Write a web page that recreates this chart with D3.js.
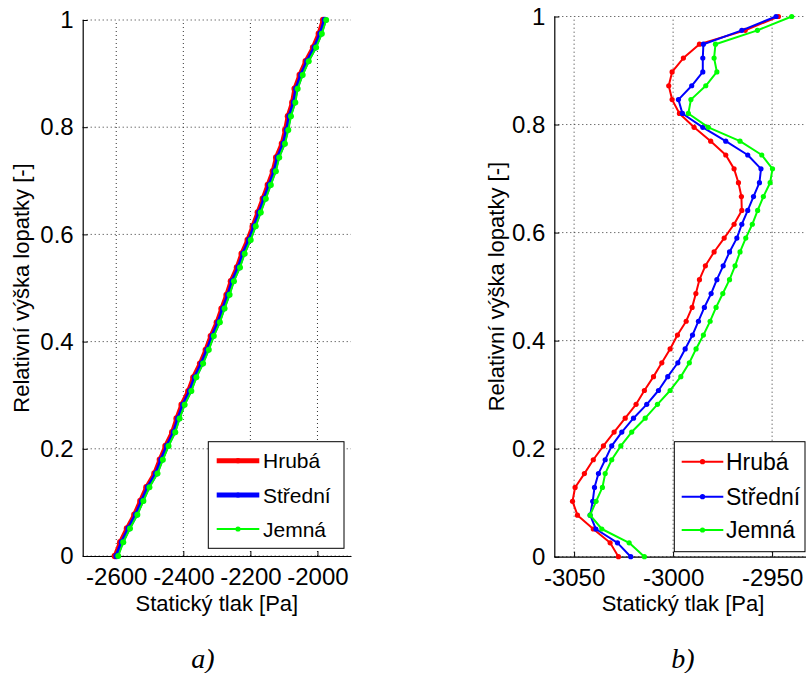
<!DOCTYPE html>
<html>
<head>
<meta charset="utf-8">
<script src="https://cdn.jsdelivr.net/npm/d3@7"></script>
<style>
  html, body { margin: 0; padding: 0; background: #fff; }
  svg { display: block; }
  text { font-family: "Liberation Sans Narrow", "Arial Narrow", "Liberation Sans", Arial, sans-serif; fill: #000; }
</style>
</head>
<body>
<svg id="chart" width="806" height="673"></svg>
<script>
// ---------------- DATA ----------------
const seriesNames = ["Hrubá", "Střední", "Jemná"];
const seriesColors = ["#ff0000", "#0000ff", "#00ff00"];
const nPoints = 40; // relative height i/39

// Panel a) static pressure [Pa], bottom (h=0) to top (h=1)
const aHruba = [-2604, -2588, -2568, -2546, -2528, -2510, -2486, -2470, -2453, -2433, -2420, -2405,
  -2385, -2370, -2350, -2333, -2318, -2300, -2286, -2271, -2258, -2240, -2226, -2208, -2193, -2178,
  -2163, -2148, -2133, -2123, -2106, -2096, -2088, -2075, -2068, -2053, -2035, -2013, -1996, -1983];
const aStredni = [-2599, -2583, -2563, -2541, -2523, -2505, -2481, -2465, -2448, -2428, -2415, -2400,
  -2380, -2365, -2345, -2328, -2313, -2295, -2281, -2266, -2253, -2235, -2221, -2203, -2188, -2173,
  -2158, -2143, -2128, -2118, -2101, -2091, -2083, -2070, -2063, -2048, -2030, -2008, -1991, -1978];
const aJemna = [-2594, -2579, -2559, -2537, -2519, -2501, -2477, -2461, -2444, -2424, -2411, -2396,
  -2376, -2361, -2341, -2324, -2309, -2291, -2277, -2262, -2249, -2231, -2217, -2199, -2184, -2169,
  -2154, -2139, -2124, -2114, -2097, -2087, -2079, -2066, -2059, -2044, -2026, -2004, -1987, -1974];

// Panel b)
const bHruba = [-3027.6, -3031.8, -3040.3, -3048.3, -3050.8, -3049.5, -3044.8, -3040.3, -3035.2, -3029.8,
  -3024.2, -3018.7, -3014.5, -3009.9, -3005.7, -3001.5, -2997.8, -2993.4, -2990.4, -2988.5,
  -2986.7, -2983.7, -2979.3, -2974.2, -2969.2, -2965.3, -2965.5, -2967.0, -2969.2, -2973.4,
  -2981.0, -2989.4, -2996.8, -3000.5, -3002.2, -3000.5, -2994.8, -2986.7, -2963.6, -2946.8];
const bStredni = [-3021.4, -3028.1, -3039.0, -3041.9, -3040.6, -3039.7, -3037.7, -3034.3, -3031.0, -3025.9,
  -3020.0, -3013.3, -3007.4, -3002.7, -2997.6, -2993.9, -2990.2, -2987.2, -2984.2, -2980.8,
  -2977.9, -2974.7, -2971.5, -2967.8, -2965.3, -2962.3, -2959.4, -2956.4, -2955.6, -2962.3,
  -2973.4, -2985.0, -2995.3, -2997.3, -2990.6, -2985.0, -2985.0, -2984.7, -2965.3, -2948.0];
const bJemna = [-3014.5, -3022.2, -3036.0, -3041.9, -3038.9, -3035.7, -3034.3, -3031.0, -3026.4, -3020.9,
  -3014.1, -3007.9, -3001.5, -2996.1, -2991.8, -2988.4, -2984.7, -2981.3, -2978.3, -2974.9,
  -2971.5, -2968.7, -2966.2, -2963.3, -2960.0, -2957.3, -2954.4, -2951.0, -2949.8, -2955.2,
  -2966.2, -2982.2, -2992.3, -2991.0, -2983.5, -2977.9, -2979.3, -2978.6, -2957.4, -2940.1];

const aXTicks = [-2600, -2400, -2200, -2000];
const bXTicks = [-3050, -3000, -2950];
const yTicks = [0, 0.2, 0.4, 0.6, 0.8, 1];
const xTitle = "Statický tlak [Pa]";
const yTitle = "Relativní výška lopatky [-]";
const captions = ["a)", "b)"];

// ---------------- DRAW ----------------
const svg = d3.select("#chart");

function panel(cfg) {
  const x = d3.scaleLinear().domain(cfg.xDomain).range([cfg.left, cfg.right]);
  const y = d3.scaleLinear().domain([0, 1]).range([cfg.bottom, cfg.top]);
  const g = svg.append("g");

  // grid
  const grid = g.append("g").attr("stroke", "#333").attr("stroke-width", 1)
    .attr("stroke-dasharray", "1,3").attr("fill", "none");
  cfg.xTicks.forEach(t => grid.append("line")
    .attr("x1", x(t)).attr("x2", x(t)).attr("y1", cfg.bottom).attr("y2", cfg.top));
  yTicks.forEach(t => grid.append("line")
    .attr("x1", cfg.left).attr("x2", cfg.right).attr("y1", y(t)).attr("y2", y(t)));

  // axes (inward ticks)
  const xAxis = d3.axisBottom(x).tickValues(cfg.xTicks).tickSizeInner(-5).tickSizeOuter(0)
    .tickPadding(12).tickFormat(d3.format("d"));
  const gx = g.append("g").attr("transform", `translate(0,${cfg.bottom})`).call(xAxis);
  gx.selectAll("text").attr("font-size", cfg.tickFont).attr("font-family", null)
    .text(d => String(d).replace("\u2212", "-"));
  const yAxis = d3.axisLeft(y).tickValues(yTicks).tickSizeInner(-5).tickSizeOuter(0)
    .tickPadding(9).tickFormat(d => d3.format("")(+d.toFixed(1)));
  const gy = g.append("g").attr("transform", `translate(${cfg.left},0)`).call(yAxis);
  gy.selectAll("text").attr("font-size", cfg.tickFont).attr("font-family", null);
  [gx, gy].forEach(a => {
    a.select(".domain").attr("stroke", "#000").attr("stroke-width", 1.2);
    a.selectAll(".tick line").attr("stroke", "#000");
  });

  // clip
  const clipId = "clip" + cfg.id;
  svg.append("clipPath").attr("id", clipId).append("rect")
    .attr("x", cfg.left - 8).attr("y", cfg.top - 8)
    .attr("width", cfg.right - cfg.left + 16).attr("height", cfg.bottom - cfg.top + 16);
  const plot = g.append("g").attr("clip-path", `url(#${clipId})`);

  cfg.series.forEach((vals, si) => {
    const pts = vals.map((v, i) => [v, i / (nPoints - 1)]);
    const line = d3.line().x(d => x(d[0])).y(d => y(d[1]));
    plot.append("path").datum(pts).attr("fill", "none")
      .attr("stroke", seriesColors[si]).attr("stroke-width", cfg.lineW[si])
      .attr("stroke-linejoin", "round").attr("d", line);
    plot.append("g").selectAll("circle").data(pts).join("circle")
      .attr("cx", d => x(d[0])).attr("cy", d => y(d[1])).attr("r", cfg.markR[si])
      .attr("fill", seriesColors[si]);
  });

  // titles
  g.append("text").attr("x", (cfg.left + cfg.right) / 2).attr("y", cfg.xTitleY)
    .attr("text-anchor", "middle").attr("font-size", cfg.titleFont).text(xTitle);
  g.append("text").attr("transform", `translate(${cfg.yTitleX},${(cfg.top + cfg.bottom) / 2}) rotate(-90)`)
    .attr("text-anchor", "middle").attr("font-size", cfg.titleFont).text(yTitle);

  // legend
  const L = cfg.legend;
  const lg = g.append("g");
  lg.append("rect").attr("x", L.x0).attr("y", L.y0).attr("width", L.x1 - L.x0)
    .attr("height", L.y1 - L.y0).attr("fill", "#fff").attr("stroke", "#000").attr("stroke-width", 1);
  seriesNames.forEach((name, si) => {
    const ry = L.rows[si];
    lg.append("line").attr("x1", L.lx0).attr("x2", L.lx1).attr("y1", ry).attr("y2", ry)
      .attr("stroke", seriesColors[si]).attr("stroke-width", L.lineW[si]);
    lg.append("circle").attr("cx", (L.lx0 + L.lx1) / 2).attr("cy", ry).attr("r", L.markR)
      .attr("fill", seriesColors[si]);
    lg.append("text").attr("x", L.tx).attr("y", ry).attr("dy", "0.36em")
      .attr("font-size", L.font).text(name);
  });

  // caption
  svg.append("text").attr("x", cfg.capX).attr("y", 668).attr("text-anchor", "middle")
    .style("font-family", "'Liberation Serif', 'DejaVu Serif', serif")
    .attr("font-style", "italic").attr("font-size", 28).text(captions[cfg.id]);
}

panel({
  id: 0, xDomain: [-2700, -1900], left: 82.7, right: 351, top: 20, bottom: 556,
  xTicks: aXTicks, series: [aHruba, aStredni, aJemna],
  lineW: [4.5, 4, 2], markR: [3.2, 3.2, 3],
  tickFont: 24, titleFont: 22, xTitleY: 611, yTitleX: 29,
  legend: { x0: 208.3, x1: 344, y0: 441.7, y1: 548.3, lx0: 216.7, lx1: 259.3, tx: 263,
    rows: [460.7, 495, 529], lineW: [5, 5, 2], markR: 2.6, font: 21 },
  capX: 203
});

panel({
  id: 1, xDomain: [-3060, -2930], left: 554.3, right: 811.7, top: 16.5, bottom: 556.7,
  xTicks: bXTicks, series: [bHruba, bStredni, bJemna],
  lineW: [2, 2, 2], markR: [2.6, 2.6, 2.6],
  tickFont: 24, titleFont: 22, xTitleY: 611, yTitleX: 504,
  legend: { x0: 674.3, x1: 805, y0: 441.7, y1: 551.7, lx0: 681.7, lx1: 723.3, tx: 726,
    rows: [461.7, 496.7, 530], lineW: [2, 2, 2], markR: 2.6, font: 23 },
  capX: 683
});
</script>
</body>
</html>
